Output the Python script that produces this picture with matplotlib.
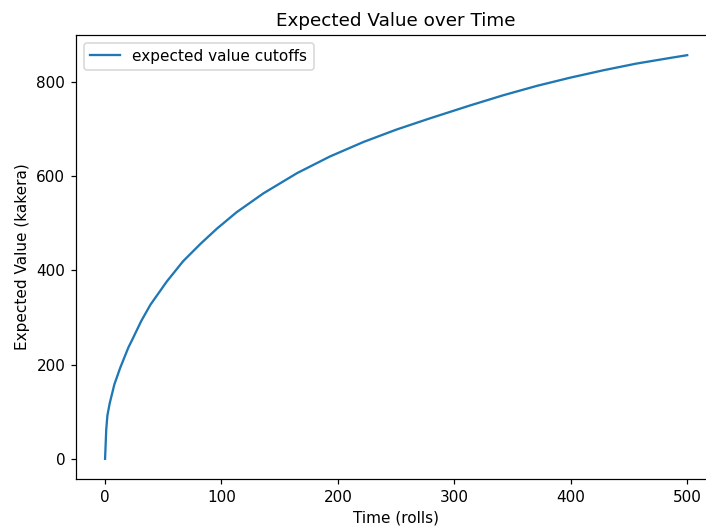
import matplotlib
matplotlib.use("Agg")
import matplotlib.pyplot as plt

# values
rolls = [0, 1, 2, 4, 8, 13, 20, 24, 31, 39, 53, 67, 82, 96, 113, 136, 165,
         193, 222, 250, 279, 313, 342, 371, 399, 428, 456, 485, 500]
expected = [0, 62, 92, 118, 158, 193, 236, 256, 292, 327, 376, 419, 456, 488,
            523, 563, 606, 641, 672, 698, 722, 749, 771, 791, 808, 824, 838,
            850, 856]

fig = plt.figure(figsize=(706 / 110, 531 / 110), dpi=110)
ax = fig.add_axes([0.1076, 0.0979, 0.907, 0.8362])
ax.plot(rolls, expected, label="expected value cutoffs")
ax.set_title("Expected Value over Time")
ax.set_xlabel("Time (rolls)")
ax.set_ylabel("Expected Value (kakera)")
ax.legend(loc="upper left")

fig.savefig("out.png", dpi=110)
